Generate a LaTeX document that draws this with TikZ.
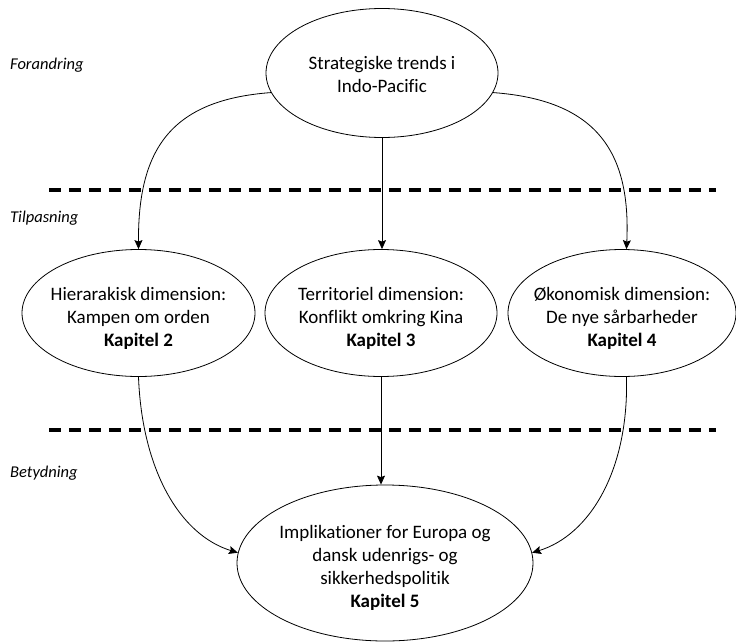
\documentclass[tikz,border=0pt]{standalone}
\usepackage{fontspec}
\setmainfont{Carlito}[Ligatures=NoCommon]
\usetikzlibrary{shapes.geometric,arrows.meta}
\begin{document}
\begin{tikzpicture}[x=1pt,y=-1pt,
  oval/.style={draw,ellipse,inner sep=0pt,line width=0.8pt},
  txt/.style={inner sep=0pt,align=center,font=\fontsize{19}{23}\selectfont},
  lvl/.style={anchor=west,inner sep=0pt,font=\fontsize{16.5}{18}\selectfont\itshape},
  sep/.style={line width=4pt,dash pattern=on 12pt off 8pt},
  conn/.style={line width=0.8pt,-{Stealth[length=9pt,width=8pt,inset=1.5pt]}}]
\useasboundingbox (0,0) rectangle (736,642);
\node[oval,minimum width=232pt,minimum height=129pt] (top) at (382,73) {};
\node[txt] (toptxt) at (382,74) {Strategiske trends i\\Indo-Pacific};
\node[oval,minimum width=233pt,minimum height=127pt] (h) at (138.5,313) {};
\node[txt] (htxt) at (138.5,318) {Hierarakisk dimension:\\Kampen om orden\\\textbf{Kapitel 2}};
\node[oval,minimum width=232pt,minimum height=127pt] (t) at (381,313) {};
\node[txt] (ttxt) at (381,318) {Territoriel dimension:\\Konflikt omkring Kina\\\textbf{Kapitel 3}};
\node[oval,minimum width=228pt,minimum height=127pt] (o) at (622,313) {};
\node[txt] (otxt) at (622,318) {Økonomisk dimension:\\De nye sårbarheder\\\textbf{Kapitel 4}};
\node[oval,minimum width=296pt,minimum height=156pt] (imp) at (385,563) {};
\node[txt] (imptxt) at (385,568) {Implikationer for Europa og\\dansk udenrigs- og\\sikkerhedspolitik\\\textbf{Kapitel 5}};
\node[lvl] (f) at (10,65) {Forandring};
\node[lvl] (tp) at (10,218) {Tilpasning};
\node[lvl] (b) at (10,473) {Betydning};
\coordinate (d1a) at (49,190); \coordinate (d1b) at (716,190);
\coordinate (d2a) at (49,430); \coordinate (d2b) at (716,430);
\draw[sep] (d1a) -- (d1b);
\draw[sep] (d2a) -- (d2b);
\draw[conn] (top.190) .. controls (170,100) and (138,150) .. (h.north);
\draw[conn] (top.south) -- (top.south |- t.north);
\draw[conn] (top.-10) .. controls (595,100) and (631,150) .. (o.86);
\draw[conn] (h.south) .. controls (142,470) and (180,535) .. (imp.176);
\draw[conn] (t.south) -- (t.south |- imp.north);
\draw[conn] (o.-86) .. controls (629,470) and (590,535) .. (imp.4);
\end{tikzpicture}
\end{document}
